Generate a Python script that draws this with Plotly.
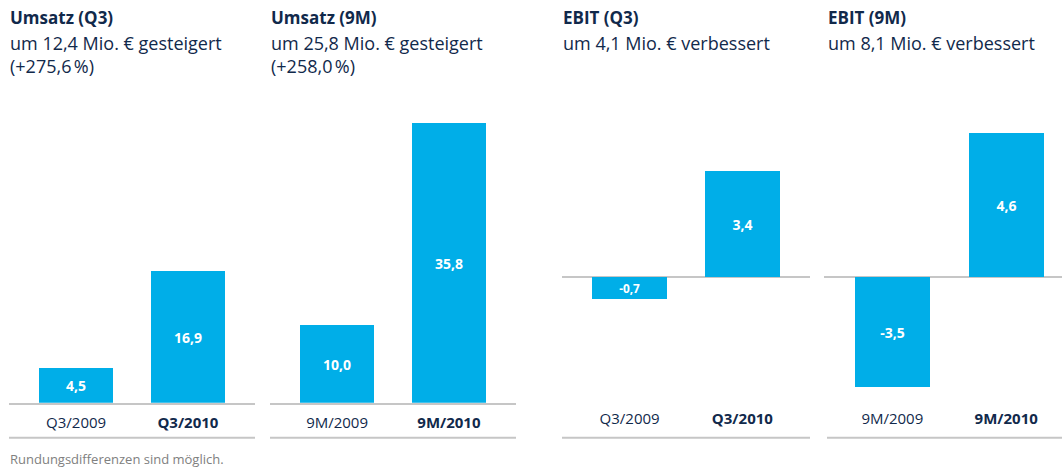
import plotly.graph_objects as go

# ---------------- data ----------------
cats_q3 = ["Q3/2009", "Q3/2010"]
cats_9m = ["9M/2009", "9M/2010"]
ticks_q3 = ["Q3/2009", "<b>Q3/2010</b>"]
ticks_9m = ["9M/2009", "<b>9M/2010</b>"]

umsatz_q3 = [4.5, 16.9]
umsatz_9m = [10.0, 35.8]
ebit_q3 = [-0.7, 3.4]
ebit_9m = [-3.5, 4.6]

titles = ["Umsatz (Q3)", "Umsatz (9M)", "EBIT (Q3)", "EBIT (9M)"]
subtitles = [
    ["um 12,4 Mio. € gesteigert", "(+275,6\u202f%)"],
    ["um 25,8 Mio. € gesteigert", "(+258,0\u202f%)"],
    ["um 4,1 Mio. € verbessert"],
    ["um 8,1 Mio. € verbessert"],
]
footnote = "Rundungsdifferenzen sind möglich."

# ---------------- style ----------------
W, H = 1062, 467
BAR = "#00AEE8"
NAVY = "#11294B"
GRAY_LINE = "#C6C6C6"
FONT = "Open Sans"


def px_x(p):
    return p / W


def px_y(p):
    return 1 - p / H


def fmt(v):
    return f"{v:.1f}".replace(".", ",")


panels = [
    (cats_q3, ticks_q3, umsatz_q3),
    (cats_9m, ticks_9m, umsatz_9m),
    (cats_q3, ticks_q3, ebit_q3),
    (cats_9m, ticks_9m, ebit_9m),
]
# pixel domains of each panel (left, right)
x_dom_px = [(9, 255), (270, 516), (562, 810), (824, 1062)]
x_ranges = [[-0.6, 1.6], [-0.6, 1.6], [-0.6, 1.6], [-0.6, 1.49]]
y_top_px, y_bot_px = 110, 402.7
y_ranges = [[0, 37.53], [0, 37.53], [-4.006, 5.345], [-4.006, 5.345]]

fig = go.Figure()
for i, (cats, ticks, vals) in enumerate(panels):
    n = "" if i == 0 else str(i + 1)
    fig.add_trace(go.Bar(
        x=cats, y=vals, width=0.66,
        marker=dict(color=BAR, line=dict(width=0)),
        text=[fmt(v) for v in vals], textposition="inside",
        insidetextanchor="middle", textangle=0,
        textfont=dict(family=FONT, size=14, color="white", weight="bold"),
        xaxis="x" + n, yaxis="y" + n, showlegend=False, hoverinfo="skip",
    ))
    left_line = i < 2
    fig.layout["xaxis" + n] = dict(
        domain=[px_x(x_dom_px[i][0]), px_x(x_dom_px[i][1])],
        range=x_ranges[i], type="category",
        tickmode="array", tickvals=cats, ticktext=ticks,
        showgrid=False, zeroline=False, ticks="",
        showline=left_line, linecolor=GRAY_LINE, linewidth=2,
        tickfont=dict(family=FONT, size=15, color=NAVY),
        ticklabelstandoff=5,
        anchor="y" + n, fixedrange=True,
    )
    fig.layout["yaxis" + n] = dict(
        domain=[px_y(y_bot_px), px_y(y_top_px)],
        range=y_ranges[i], visible=True, showticklabels=False,
        showgrid=False, ticks="", showline=False,
        zeroline=not left_line, zerolinecolor=GRAY_LINE, zerolinewidth=2,
        anchor="x" + n, fixedrange=True,
    )

# bottom separator lines
shapes = []
bottom_lines = [(9, 255), (270, 516), (562, 810), (827, 1062)]
for a, b in bottom_lines:
    shapes.append(dict(type="line", xref="paper", yref="paper",
                       x0=px_x(a), x1=px_x(b), y0=px_y(437.7), y1=px_y(437.7),
                       line=dict(color=GRAY_LINE, width=2)))

annotations = []
title_x_px = [9, 270, 562, 827]
for i in range(4):
    annotations.append(dict(
        text="<b>" + titles[i] + "</b>", xref="paper", yref="paper",
        x=px_x(title_x_px[i] - 1), y=px_y(18), xanchor="left", yanchor="middle",
        showarrow=False, align="left",
        font=dict(family=FONT, size=17, color=NAVY)))
    annotations.append(dict(
        text="<br>".join(subtitles[i]), xref="paper", yref="paper",
        x=px_x(title_x_px[i] - 1), y=px_y(28.5),
        xanchor="left", yanchor="top",
        showarrow=False, align="left",
        font=dict(family=FONT, size=18, color=NAVY)))
annotations.append(dict(
    text=footnote, xref="paper", yref="paper",
    x=px_x(8), y=px_y(459), xanchor="left", yanchor="middle",
    showarrow=False, align="left",
    font=dict(family=FONT, size=13, color="#808080")))

fig.update_layout(
    width=W, height=H,
    margin=dict(l=0, r=0, t=0, b=0),
    paper_bgcolor="white", plot_bgcolor="white",
    bargap=0, shapes=shapes, annotations=annotations,
    font=dict(family=FONT, color=NAVY),
)

fig.write_html(
    "out.html",
    config={"displayModeBar": False},
    post_script="document.body.style.margin='0';document.body.style.overflow='hidden';",
)
